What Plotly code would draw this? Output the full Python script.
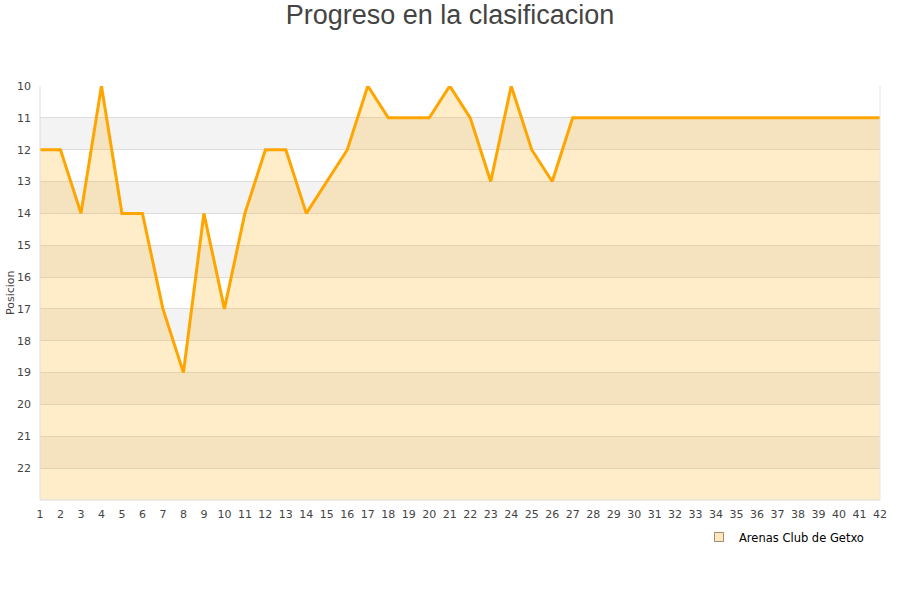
import plotly.graph_objects as go

jornadas = list(range(1, 43))
posiciones = [12, 12, 14, 10, 14, 14, 17, 19, 14, 17, 14, 12, 12, 14, 13, 12, 10, 11, 11, 11,
              10, 11, 13, 10, 12, 13, 11, 11, 11, 11, 11, 11, 11, 11, 11, 11, 11, 11, 11, 11,
              11, 11]
y_ticks = list(range(10, 23))
x_ticks = jornadas
equipo = "Arenas Club de Getxo"
titulo = "Progreso en la clasificacion"
y_min, y_max = 10, 23

fig = go.Figure()
fig.add_trace(go.Scatter(x=jornadas, y=[y_max] * len(jornadas), mode="lines",
                         line=dict(width=0, color="rgba(0,0,0,0)"), showlegend=False,
                         hoverinfo="skip"))
fig.add_trace(go.Scatter(x=jornadas, y=posiciones, mode="lines", name=equipo,
                         line=dict(color="#ffa500", width=3), showlegend=False,
                         fill="tonexty", fillcolor="rgba(255,165,0,0.21)"))
fig.add_trace(go.Scatter(x=[None], y=[None], mode="markers", name=equipo,
                         marker=dict(symbol="square", size=9, color="#fde8c2",
                                     line=dict(color="#a08c68", width=1))))

shapes = []
for b in range(11, 23, 2):
    shapes.append(dict(type="rect", xref="paper", yref="y", x0=0, x1=1, y0=b, y1=b + 1,
                       fillcolor="#f3f3f3", line=dict(width=0), layer="below"))
shapes.append(dict(type="line", xref="paper", yref="paper", x0=0, x1=0, y0=0, y1=1,
                   line=dict(color="#dddddd", width=1)))
shapes.append(dict(type="line", xref="paper", yref="paper", x0=1, x1=1, y0=0, y1=1,
                   line=dict(color="#e6e6e6", width=1)))
shapes.append(dict(type="line", xref="paper", yref="paper", x0=0, x1=1, y0=0, y1=0,
                   line=dict(color="#dddddd", width=1)))

fig.update_layout(
    width=900, height=600,
    paper_bgcolor="white", plot_bgcolor="white",
    margin=dict(l=40, r=20, t=86, b=100, autoexpand=False),
    title=dict(text=titulo, x=0.5, xanchor="center", xref="container",
               y=1 - 15 / 600, yref="container", yanchor="middle",
               font=dict(family="Liberation Sans, Arial", size=27, color="#444444")),
    shapes=shapes,
    showlegend=True,
    legend=dict(x=1 - 31 / 900, xanchor="right", xref="container",
                y=1 - 537 / 600, yref="container", yanchor="middle",
                font=dict(family="DejaVu Sans", size=11.5, color="#000000"),
                bgcolor="rgba(0,0,0,0)", itemwidth=30),
    font=dict(family="DejaVu Sans"),
    annotations=[dict(text="Posicion", xref="paper", yref="paper", x=-30 / 840, y=0.5,
                      xanchor="center", yanchor="middle", textangle=-90, showarrow=False,
                      font=dict(size=11, color="#444444"))],
)
fig.update_xaxes(range=[1, 42], tickmode="array", tickvals=x_ticks,
                 ticktext=[str(v) for v in x_ticks], showgrid=False, zeroline=False,
                 tickfont=dict(size=11, color="#444444"), ticks="", showline=False,
                 automargin=False, ticklabelstandoff=6)
fig.update_yaxes(range=[y_max, y_min], tickmode="array", tickvals=y_ticks,
                 ticktext=[str(v) for v in y_ticks], showgrid=True, gridcolor="#dddddd",
                 gridwidth=1, zeroline=False, tickfont=dict(size=11, color="#444444"),
                 ticks="", showline=False, automargin=False, ticklabelstandoff=8)

fig.write_html("out.html", config={"displayModeBar": False},
               post_script="document.body.style.margin='0px';")
